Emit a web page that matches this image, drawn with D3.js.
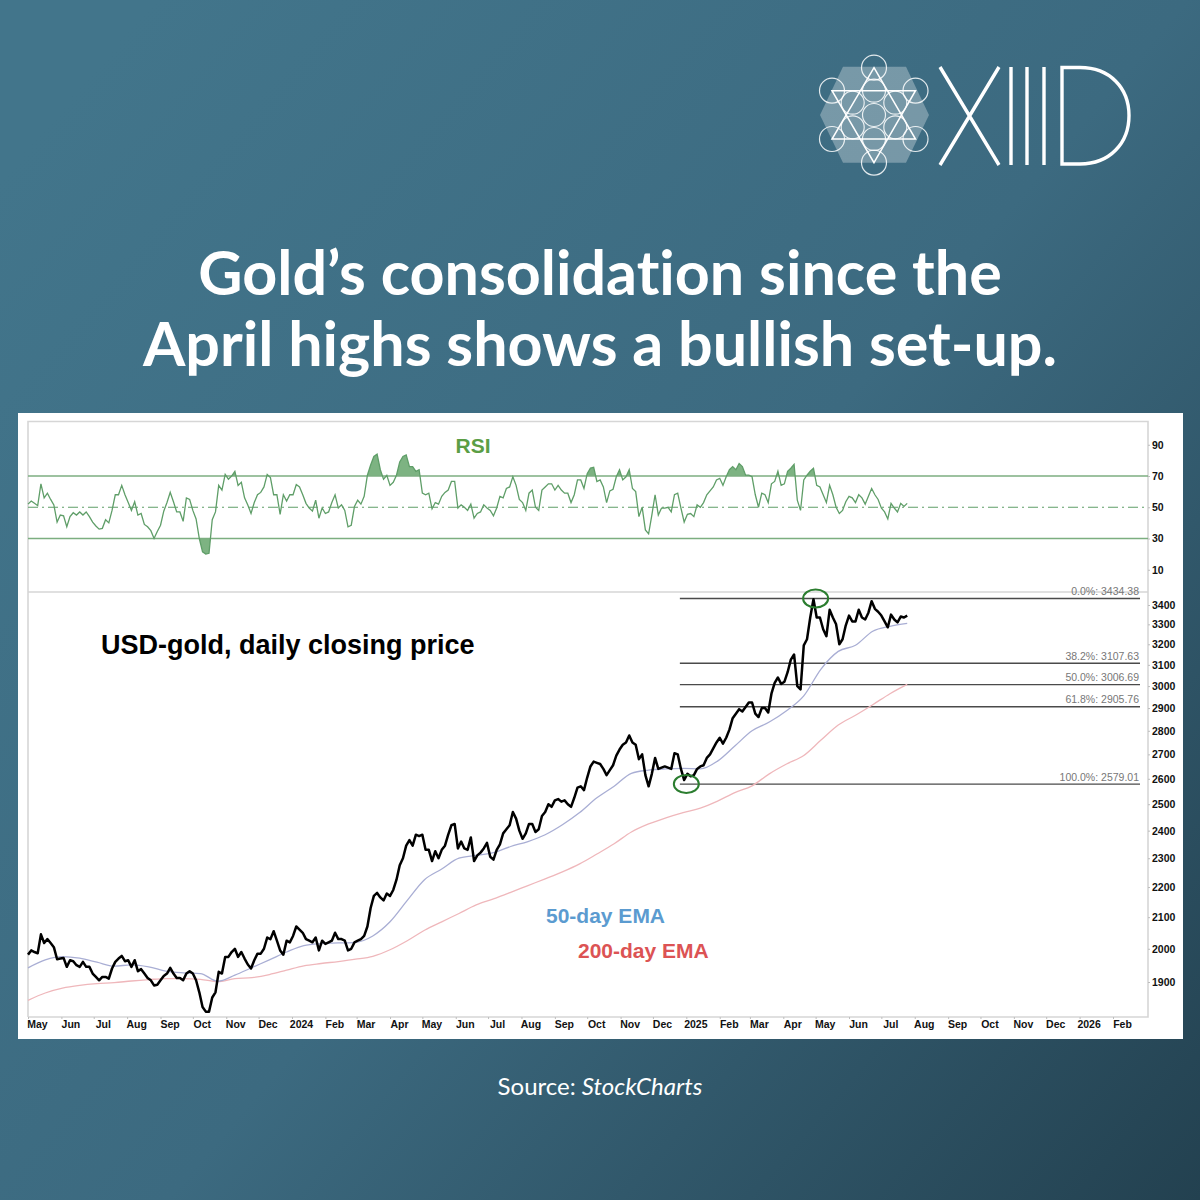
<!DOCTYPE html>
<html>
<head>
<meta charset="utf-8">
<title>Gold consolidation</title>
<script src="https://cdn.jsdelivr.net/npm/d3@7"></script>
<style>
  html, body { margin: 0; padding: 0; background: #3b687d; }
  svg { display: block; }
  text { font-family: "Liberation Sans", Arial, sans-serif; }
  .headline { font-family: Lato, sans-serif; font-weight: 700; fill: #fff; font-variant-ligatures: none; }
  .source { font-family: Lato, sans-serif; fill: #fff; }
</style>
</head>
<body>
<div id="chart"></div>
<script>
(function () {
  "use strict";

  const seriesStart = new Date(2023, 4, 1);
  const closeStepDays = 3;
  const closeValues = [
    1982, 1995, 1990, 1986, 2045, 2018, 2030, 2018, 2005, 1968, 1970, 1972, 1945, 1965, 1962, 1950, 1945, 1960, 1945, 1945,
    1925, 1915, 1905, 1915, 1915, 1910, 1940, 1960, 1970, 1978, 1962, 1965, 1945, 1965, 1932, 1938, 1925, 1912, 1905, 1890,
    1892, 1905, 1918, 1925, 1942, 1925, 1912, 1912, 1905, 1925, 1932, 1925, 1905, 1870, 1828, 1815, 1815, 1855, 1870, 1930,
    1925, 1975, 1975, 1990, 2000, 1975, 1990, 1970, 1952, 1940, 1965, 1985, 1985, 2000, 2035, 2030, 2055, 2025, 1995, 1982,
    2025, 2020, 2040, 2070, 2060, 2050, 2030, 2025, 2020, 2035, 1995, 2025, 2015, 2020, 2025, 2050, 2030, 2030, 2025, 1995,
    2000, 2020, 2025, 2030, 2040, 2070, 2130, 2170, 2180, 2165, 2155, 2178, 2170, 2190, 2225, 2275, 2300, 2345, 2365, 2345,
    2385, 2380, 2385, 2330, 2330, 2290, 2325, 2300, 2330, 2345, 2385, 2420, 2425, 2335, 2360, 2335, 2330, 2375, 2290, 2310,
    2320, 2335, 2355, 2305, 2295, 2330, 2350, 2390, 2405, 2420, 2470, 2445, 2400, 2370, 2390, 2425, 2425, 2395, 2405, 2455,
    2470, 2500, 2490, 2515, 2520, 2510, 2515, 2500, 2490, 2525, 2565, 2570, 2555, 2605, 2650, 2670, 2665, 2660, 2640, 2615,
    2635, 2655, 2695, 2720, 2740, 2750, 2780, 2750, 2740, 2680, 2700, 2615, 2570, 2620, 2685, 2640, 2645, 2650, 2645, 2640,
    2705, 2700, 2640, 2595, 2620, 2610, 2615, 2640, 2650, 2655, 2685, 2700, 2725, 2750, 2770, 2745, 2770, 2805, 2855, 2875,
    2895, 2885, 2905, 2925, 2925, 2875, 2860, 2900, 2900, 2880, 2965, 3015, 3040, 3010, 3020, 3065, 3125, 3150, 3000, 2985,
    3195, 3225, 3335, 3430, 3335, 3335, 3275, 3240, 3375, 3335, 3300, 3200, 3225, 3295, 3345, 3315, 3315, 3375, 3335, 3325,
    3360, 3420, 3380, 3365, 3345, 3315, 3285, 3350, 3325, 3310, 3340, 3335, 3345
  ];
  const rsiValues = [
    52, 54, 52.5, 51, 65, 56, 59, 55, 51.5, 40.5, 45, 44.5, 37.5, 44, 46.5, 45, 47, 45, 47, 44,
    40.5, 38, 36, 36.5, 42, 40, 48, 58, 58, 64, 58, 53, 48, 53.5, 45, 46, 39, 37.5, 35, 30,
    34.5, 38.5, 47.5, 53, 59.5, 53.5, 47, 47, 41, 56, 55, 48, 42.5, 30, 21.5, 20, 20.5, 42, 47, 64,
    61, 71, 68, 70, 73, 64, 66, 56, 51.5, 46, 53, 58, 59.5, 63, 71, 69, 58, 58, 45.5, 58,
    54, 58, 58, 64.5, 63, 58, 52.5, 49.5, 47.5, 54.5, 43, 49.5, 46, 47, 53, 58, 49.5, 51.5, 48, 37.5,
    38.5, 50.5, 54.5, 52, 57, 70.5, 77, 82.5, 84, 74, 68, 70.5, 64, 66, 70.5, 79, 82.5, 83.5, 76, 76,
    73, 74, 59, 58, 59, 49, 53, 52, 57, 59.5, 61, 66.5, 66.5, 49.5, 51.5, 50, 48, 52, 43, 46,
    47, 51.5, 49.5, 48, 44.5, 49.5, 57, 56, 62, 63, 69.5, 64, 55, 53, 48, 59, 61, 50, 48, 61,
    63, 65, 65, 61, 64, 61, 59, 59, 53, 58, 67.5, 67.5, 62, 71.5, 75, 75.5, 66.5, 67.5, 63, 53,
    60.5, 61.5, 69.5, 74, 67.5, 69.5, 74, 62, 60, 44, 50, 35.5, 33, 45, 58, 45, 49.5, 49.5, 50, 47,
    58, 59, 49.5, 40.5, 45.5, 46, 44, 51.5, 50, 53, 58, 60.5, 63, 67.5, 68.5, 64, 69.5, 74, 76, 74,
    78, 76, 70.5, 70.5, 69.5, 58, 50, 59, 58, 53, 65, 66.5, 73, 64, 65, 73, 75, 77.5, 54.5, 48,
    67.5, 70.5, 73, 75, 64, 63, 58, 53, 64, 58, 50, 46, 48, 53.5, 57, 56, 53, 58, 56, 52,
    57, 62, 58, 55, 49.5, 47, 42.5, 52.5, 49.5, 47, 52.5, 50.5, 52.5
  ];

  // moving averages, one reading every 16 calendar days
  const emaStepDays = 16;
  const ema50Values = [
    1942, 1966, 1976, 1971, 1959, 1947, 1951, 1945, 1932, 1927, 1925, 1902, 1920, 1943, 1966, 1990, 2010, 2016, 2018, 2020,
    2040, 2085, 2155, 2225, 2262, 2300, 2310, 2320, 2342, 2360, 2385, 2422, 2468, 2525, 2570, 2622, 2635, 2640, 2642, 2640,
    2672, 2735, 2800, 2838, 2888, 2955, 3080, 3165, 3195, 3265, 3290, 3305
  ];
  const ema200Values = [
    1847, 1868, 1882, 1890, 1895, 1898, 1903, 1907, 1910, 1910, 1908, 1901, 1910, 1913, 1922, 1935, 1948, 1955, 1961, 1968,
    1977, 1997, 2025, 2058, 2085, 2112, 2140, 2160, 2182, 2205, 2228, 2252, 2280, 2315, 2352, 2395, 2425, 2448, 2468, 2485,
    2512, 2545, 2572, 2620, 2660, 2695, 2760, 2825, 2868, 2915, 2965, 3008
  ];

  const fibLevels = ["0.0%", "38.2%", "50.0%", "61.8%", "100.0%"];
  const fibValues = [3434.38, 3107.63, 3006.69, 2905.76, 2579.01];
  const fibStart = new Date(2024, 11, 26);

  const swingDates = [new Date(2025, 0, 1), new Date(2025, 4, 1)];
  const swingValues = [2579.01, 3434.38];

  const priceTicks = [1900, 2000, 2100, 2200, 2300, 2400, 2500, 2600, 2700, 2800, 2900, 3000, 3100, 3200, 3300, 3400];
  const rsiTicks = [10, 30, 50, 70, 90];
  const monthLabels = [
    "May", "Jun", "Jul", "Aug", "Sep", "Oct", "Nov", "Dec", "2024", "Feb", "Mar", "Apr",
    "May", "Jun", "Jul", "Aug", "Sep", "Oct", "Nov", "Dec", "2025", "Feb", "Mar", "Apr",
    "May", "Jun", "Jul", "Aug", "Sep", "Oct", "Nov", "Dec", "2026", "Feb"
  ];

  const size = 1200;
  const plot = { left: 28, right: 1148, top: 421.5, split: 592, bottom: 1017 };

  const svg = d3
    .select("#chart")
    .append("svg")
    .attr("width", size)
    .attr("height", size)
    .attr("viewBox", `0 0 ${size} ${size}`);

  const defs = svg.append("defs");
  const bg = defs
    .append("linearGradient")
    .attr("id", "bg")
    .attr("x1", 0)
    .attr("y1", 0.15)
    .attr("x2", 1)
    .attr("y2", 1);
  bg.append("stop").attr("offset", "0%").attr("stop-color", "#42758b");
  bg.append("stop").attr("offset", "50%").attr("stop-color", "#3c6a80");
  bg.append("stop").attr("offset", "100%").attr("stop-color", "#234150");

  svg.append("rect").attr("width", size).attr("height", size).attr("fill", "url(#bg)");

  drawLogo();

  const headline = ["Gold\u2019s consolidation since the", "April highs shows a bullish set-up."];
  svg
    .selectAll(".headline")
    .data(headline)
    .join("text")
    .attr("class", "headline")
    .attr("x", 600)
    .attr("y", (d, i) => 295 + i * 71)
    .attr("text-anchor", "middle")
    .attr("font-size", 61)
    .text((d) => d);

  const source = svg
    .append("text")
    .attr("class", "source")
    .attr("x", 600)
    .attr("y", 1095)
    .attr("text-anchor", "middle")
    .attr("font-size", 24);
  source.append("tspan").text("Source: ");
  source.append("tspan").attr("font-style", "italic").text("StockCharts");

  // white chart card
  svg.append("rect").attr("x", 18).attr("y", 413).attr("width", 1165).attr("height", 626).attr("fill", "#fff");

  const x = d3
    .scaleTime()
    .domain([seriesStart, new Date(2026, 1, 1)])
    .range([plot.left, 1113]);
  const yPrice = d3.scaleLog().domain([1900, 3400]).range([982, 605]);
  const yRsi = d3.scaleLinear().domain([30, 70]).range([538.5, 476]);

  const closeData = closeValues.map((v, i) => ({
    date: d3.timeDay.offset(seriesStart, i * closeStepDays),
    value: v,
  }));
  const rsiData = rsiValues.map((v, i) => ({
    date: d3.timeDay.offset(seriesStart, i * closeStepDays),
    value: v,
  }));
  const emaSeries = (values) =>
    values.map((v, i) => ({
      date: d3.timeDay.offset(seriesStart, i * emaStepDays),
      value: v,
    }));

  drawFrame();
  drawRsi();
  drawPrice();
  drawAxes();

  function drawFrame() {
    svg
      .append("path")
      .attr(
        "d",
        `M${plot.left},${plot.bottom}V${plot.top}H${plot.right}V${plot.bottom}H${plot.left}` +
          `M${plot.left},${plot.split}H${plot.right}`
      )
      .attr("fill", "none")
      .attr("stroke", "#d6d6d6")
      .attr("stroke-width", 1.6);
  }

  function drawRsi() {
    const g = svg.append("g");
    const green = "#5f9e68";

    defs
      .append("clipPath")
      .attr("id", "aboveBand")
      .append("rect")
      .attr("x", plot.left)
      .attr("y", plot.top)
      .attr("width", plot.right - plot.left)
      .attr("height", yRsi(70) - plot.top);
    defs
      .append("clipPath")
      .attr("id", "belowBand")
      .append("rect")
      .attr("x", plot.left)
      .attr("y", yRsi(30))
      .attr("width", plot.right - plot.left)
      .attr("height", plot.split - yRsi(30));

    const area = (level) =>
      d3
        .area()
        .x((d) => x(d.date))
        .y0(yRsi(level))
        .y1((d) => yRsi(d.value));

    g.append("path")
      .datum(rsiData)
      .attr("d", area(70))
      .attr("fill", "#7db382")
      .attr("clip-path", "url(#aboveBand)");
    g.append("path")
      .datum(rsiData)
      .attr("d", area(30))
      .attr("fill", "#7db382")
      .attr("clip-path", "url(#belowBand)");

    g.selectAll(".band")
      .data([30, 70])
      .join("line")
      .attr("class", "band")
      .attr("x1", plot.left)
      .attr("x2", plot.right)
      .attr("y1", (d) => yRsi(d))
      .attr("y2", (d) => yRsi(d))
      .attr("stroke", "#7cae80")
      .attr("stroke-width", 1.6);

    g.append("line")
      .attr("x1", plot.left)
      .attr("x2", plot.right)
      .attr("y1", yRsi(50))
      .attr("y2", yRsi(50))
      .attr("stroke", "#5f9e68")
      .attr("stroke-width", 1.1)
      .attr("stroke-dasharray", "10 4 2 4");

    const line = d3
      .line()
      .x((d) => x(d.date))
      .y((d) => yRsi(d.value));
    g.append("path")
      .datum(rsiData)
      .attr("d", line)
      .attr("fill", "none")
      .attr("stroke", green)
      .attr("stroke-width", 1.3);

    g.append("text")
      .attr("x", 473)
      .attr("y", 453)
      .attr("text-anchor", "middle")
      .attr("font-size", 21)
      .attr("font-weight", 700)
      .attr("fill", "#5b9e45")
      .text("RSI");
  }

  function drawPrice() {
    const g = svg.append("g");
    const line = d3
      .line()
      .x((d) => x(d.date))
      .y((d) => yPrice(d.value));
    const smooth = d3
      .line()
      .curve(d3.curveMonotoneX)
      .x((d) => x(d.date))
      .y((d) => yPrice(d.value));

    // fibonacci retracement lines
    fibValues.forEach((v, i) => {
      g.append("line")
        .attr("x1", x(fibStart))
        .attr("x2", 1140)
        .attr("y1", yPrice(v))
        .attr("y2", yPrice(v))
        .attr("stroke", "#4a4a4a")
        .attr("stroke-width", 1.3);
      g.append("text")
        .attr("x", 1139)
        .attr("y", yPrice(v) - 3.5)
        .attr("text-anchor", "end")
        .attr("font-size", 10.5)
        .attr("fill", "#777")
        .text(`${fibLevels[i]}: ${v.toFixed(2)}`);
    });

    g.append("path")
      .datum(emaSeries(ema200Values))
      .attr("d", smooth)
      .attr("fill", "none")
      .attr("stroke", "#efb7bb")
      .attr("stroke-width", 1.3);
    g.append("path")
      .datum(emaSeries(ema50Values))
      .attr("d", smooth)
      .attr("fill", "none")
      .attr("stroke", "#a9aed4")
      .attr("stroke-width", 1.3);
    g.append("path")
      .datum(closeData)
      .attr("d", line)
      .attr("fill", "none")
      .attr("stroke", "#000")
      .attr("stroke-width", 2.5)
      .attr("stroke-linejoin", "round");

    // circled swing low and high
    g.selectAll(".swing")
      .data(swingValues)
      .join("ellipse")
      .attr("class", "swing")
      .attr("cx", (d, i) => x(swingDates[i]))
      .attr("cy", (d) => yPrice(d))
      .attr("rx", 12.5)
      .attr("ry", 9)
      .attr("fill", "none")
      .attr("stroke", "#2b7d2f")
      .attr("stroke-width", 2);

    g.append("text")
      .attr("x", 101)
      .attr("y", 654)
      .attr("font-size", 27)
      .attr("font-weight", 700)
      .attr("fill", "#000")
      .text("USD-gold, daily closing price");
    g.append("text")
      .attr("x", 546)
      .attr("y", 923)
      .attr("font-size", 21)
      .attr("font-weight", 700)
      .attr("fill", "#5b9bd0")
      .text("50-day EMA");
    g.append("text")
      .attr("x", 578)
      .attr("y", 958)
      .attr("font-size", 21)
      .attr("font-weight", 700)
      .attr("fill", "#dc5354")
      .text("200-day EMA");
  }

  function drawAxes() {
    const styleAxis = (g) => {
      g.select(".domain").remove();
      g.selectAll("line").attr("stroke", "#bdbdbd");
      g.selectAll("text")
        .attr("font-size", 10.5)
        .attr("font-weight", 700)
        .attr("font-family", '"Liberation Sans", Arial, sans-serif')
        .attr("fill", "#111");
    };

    svg
      .append("g")
      .attr("transform", `translate(${plot.right},0)`)
      .call(d3.axisRight(yRsi).tickValues(rsiTicks).tickSize(2).tickPadding(2))
      .call(styleAxis);
    svg
      .append("g")
      .attr("transform", `translate(${plot.right},0)`)
      .call(
        d3.axisRight(yPrice).tickValues(priceTicks).tickFormat(d3.format("d")).tickSize(2).tickPadding(2)
      )
      .call(styleAxis);

    const monthTicks = monthLabels.map((d, i) => d3.timeMonth.offset(seriesStart, i));
    svg
      .append("g")
      .attr("transform", `translate(0,${plot.bottom})`)
      .call(
        d3
          .axisBottom(x)
          .tickValues(monthTicks)
          .tickFormat((d, i) => monthLabels[i])
          .tickSize(2)
          .tickPadding(2)
      )
      .call(styleAxis)
      .selectAll("text")
      .attr("dx", 9);
  }

  function drawLogo() {
    const g = svg.append("g").attr("fill", "none").attr("stroke", "#fff");
    const cx = 874;
    const cy = 115;

    g.append("path")
      .attr("d", "M820,115L843,66.7H906L929,115L906,162.7H843Z")
      .attr("fill", "#fff")
      .attr("fill-opacity", 0.3)
      .attr("stroke", "none");

    const circleData = [
      [cx, 67.7, 12.5], [832, 90.7, 12.5], [915.5, 90.7, 12.5],
      [832, 139, 12.5], [915.5, 139, 12.5], [cx, 162.7, 12.5],
      [cx, cy, 11.5], [cx, 90.7, 11.5], [cx, 139, 11.5],
      [852.7, 102.7, 11.5], [895.3, 102.7, 11.5], [852.7, 127.3, 11.5], [895.3, 127.3, 11.5],
    ];
    g.selectAll("circle")
      .data(circleData)
      .join("circle")
      .attr("cx", (d) => d[0])
      .attr("cy", (d) => d[1])
      .attr("r", (d) => d[2])
      .attr("stroke-width", 1.2)
      .attr("stroke-opacity", 0.85);

    g.append("path")
      .attr("d", "M874,67.7L915.5,139H832ZM874,162.7L915.5,90.7H832Z")
      .attr("stroke-width", 1.5);

    g.append("path")
      .attr(
        "d",
        "M940,67L999,165M999,67L940,165M1011,67V165M1027,67V165M1044,67V165" +
          "M1062,67.5V164H1080C1110,164 1129,143 1129,115.5C1129,88 1110,67.5 1080,67.5Z"
      )
      .attr("stroke-width", 3.4);
  }
})();
</script>
</body>
</html>
